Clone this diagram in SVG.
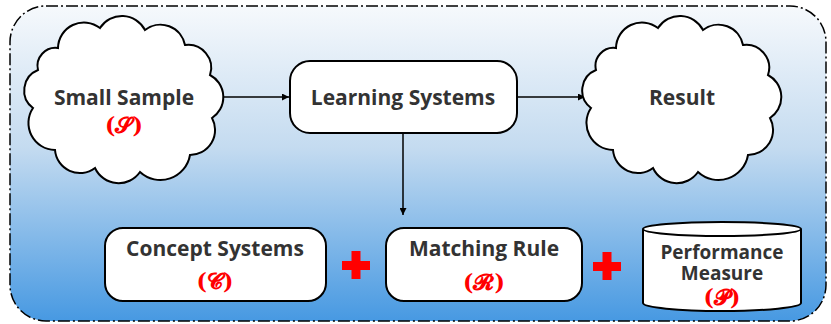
<svg xmlns="http://www.w3.org/2000/svg" width="831" height="324" viewBox="0 0 831 324">
  <defs>
    <linearGradient id="bg" x1="0" y1="0" x2="0" y2="1">
      <stop offset="0" stop-color="#f6f9fc"/>
      <stop offset="0.45" stop-color="#c4dbf0"/>
      <stop offset="1" stop-color="#4799e2"/>
    </linearGradient>
    <marker id="arr" viewBox="0 0 10 10" refX="10" refY="5" markerWidth="7" markerHeight="7" orient="auto" markerUnits="userSpaceOnUse">
      <path d="M0,0 L10,5 L0,10 z" fill="#000"/>
    </marker>
    <path id="cloud" d="M33,108 A22,22 0 0 1 38,70 A18,18 0 0 1 58,48 A26,26 0 0 1 100,28 A26,26 0 0 1 145,30 A25,25 0 0 1 185,45 A23,23 0 0 1 210,75 A25,25 0 0 1 212,118 A25,25 0 0 1 190,155 A30,30 0 0 1 140,172 A26,26 0 0 1 95,168 A25,25 0 0 1 55,150 A27,27 0 0 1 33,108 Z"/>
  </defs>
  <style>
    .shape { fill: #fff; stroke: #000; stroke-width: 2; }
    .lbl { font-family: "Open Sans", "Liberation Sans", sans-serif; font-weight: bold; font-size: 21px; fill: #333; text-anchor: middle; }
    .lbl2 { font-family: "Open Sans", "Liberation Sans", sans-serif; font-weight: bold; font-size: 19px; fill: #333; text-anchor: middle; }
    .sym { font-family: "DejaVu Serif", "Liberation Serif", serif; font-weight: bold; font-size: 22px; fill: #ff0000; text-anchor: middle; }
    .conn { stroke: #000; stroke-width: 1.5; fill: none; }
    .plus { fill: #ff0000; }
  </style>

  <rect id="frame" x="10" y="6" width="816" height="315" rx="36" ry="36" fill="url(#bg)" stroke="#000" stroke-width="1.5" stroke-dasharray="12 3 2 3"/>

  <g id="connectors">
    <line class="conn" x1="221" y1="97" x2="289" y2="97" marker-end="url(#arr)"/>
    <line class="conn" x1="517" y1="97" x2="585" y2="97" marker-end="url(#arr)"/>
    <line class="conn" x1="403" y1="133" x2="403" y2="215" marker-end="url(#arr)"/>
  </g>

  <g id="small-sample">
    <use href="#cloud" class="shape"/>
    <text class="lbl" x="124" y="105">Small Sample</text>
    <text class="sym" x="124" y="133">(𝓢)</text>
  </g>

  <g id="learning-systems">
    <rect class="shape" x="290" y="61" width="227" height="72" rx="20" ry="20"/>
    <text class="lbl" x="403" y="105">Learning Systems</text>
  </g>

  <g id="result">
    <use href="#cloud" class="shape" transform="translate(558,0)"/>
    <text class="lbl" x="682" y="105">Result</text>
  </g>

  <g id="concept-systems">
    <rect class="shape" x="105" y="228" width="221" height="73" rx="18" ry="18"/>
    <text class="lbl" x="215" y="256">Concept Systems</text>
    <text class="sym" x="215" y="289">(𝓒)</text>
  </g>

  <g id="plus-1">
    <rect class="plus" x="342" y="261" width="28" height="9"/>
    <rect class="plus" x="351.5" y="251" width="9" height="28"/>
  </g>

  <g id="matching-rule">
    <rect class="shape" x="386" y="228" width="196" height="73" rx="18" ry="18"/>
    <text class="lbl" x="484" y="256">Matching Rule</text>
    <text class="sym" x="484" y="290">(𝓡)</text>
  </g>

  <g id="plus-2">
    <rect class="plus" x="593" y="262" width="28" height="9"/>
    <rect class="plus" x="602.5" y="252" width="9" height="28"/>
  </g>

  <g id="performance-measure">
    <path class="shape" d="M643,229 A79,7 0 0 1 801,229 L801,303 A79,8 0 0 1 643,303 Z"/>
    <path class="shape" d="M643,229 A79,7 0 0 0 801,229" fill="none"/>
    <text class="lbl2" x="722" y="259">Performance</text>
    <text class="lbl2" x="722" y="280">Measure</text>
    <text class="sym" x="722" y="305">(𝓟)</text>
  </g>
</svg>
